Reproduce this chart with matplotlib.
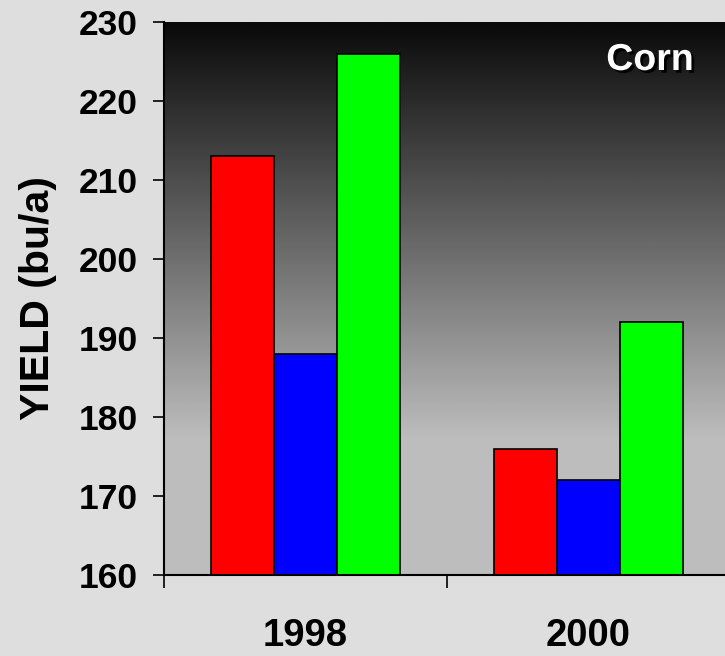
import matplotlib
matplotlib.use("Agg")
import matplotlib.pyplot as plt
import matplotlib.patheffects as pe
import numpy as np

years = ["1998", "2000"]
series_colors = ["#ff0000", "#0000ff", "#00ff00"]
red_vals = [213, 176]
blue_vals = [188, 172]
green_vals = [226, 192]
yticks = [160, 170, 180, 190, 200, 210, 220, 230]

plt.rcParams['font.family'] = ['Liberation Sans', 'DejaVu Sans']
plt.rcParams['font.weight'] = 'bold'

W, H = 725, 656
fig = plt.figure(figsize=(W / 100, H / 100), dpi=100, facecolor="#dedede")
ax = fig.add_axes([164 / W, 1 - 575 / H, 566 / W, 553 / H])

# gradient background
g = np.linspace(0, 1, 256)[:, None]  # 0 bottom, 1 top
vals = np.where(g < 0.244, 189, 189 - (g - 0.244) / (1 - 0.244) * (189 - 10)) / 255.0
img = np.repeat(vals, 2, axis=1)
ax.imshow(img, cmap="gray", vmin=0, vmax=1, origin="lower", aspect="auto",
          extent=[0, 2, 160, 230], zorder=0, interpolation="bilinear")

x = np.arange(len(years)) + 0.5
bw = 0.2226
for i, (vals_s, col) in enumerate(zip([red_vals, blue_vals, green_vals], series_colors)):
    hts = np.array(vals_s) - 160
    ax.bar(x + (i - 1) * bw, hts, bw, bottom=160, color=col, edgecolor="black",
           linewidth=1.2, zorder=2)

ax.set_xlim(0, 2)
ax.set_ylim(160, 230)
ax.set_yticks(yticks)
ax.set_yticklabels([str(t) for t in yticks], fontsize=25.5, fontweight="bold")
ax.tick_params(axis="y", direction="out", length=8, width=1.2, pad=11)

ax.set_xticks([0, 1, 2], minor=True)
ax.set_xticks(x)
ax.set_xticklabels(years, fontsize=27.5, fontweight="bold")
ax.tick_params(axis="x", which="major", length=0, pad=31)
ax.tick_params(axis="x", which="minor", direction="out", length=9.5, width=1.2)

for s in ["top", "right"]:
    ax.spines[s].set_visible(False)
ax.spines["left"].set_linewidth(1.5)
ax.spines["bottom"].set_linewidth(1.5)

fig.text(38 / W, 1 - 298 / H, "YIELD (bu/a)", rotation=90, ha="center", va="center",
         fontsize=29.5, fontweight="bold")

ax.text((650 - 164) / 566, 1 - (60 - 22) / 553, "Corn", transform=ax.transAxes,
        ha="center", va="center", color="white", fontsize=27, fontweight="bold",
        path_effects=[pe.withSimplePatchShadow(offset=(2, -2), shadow_rgbFace="black", alpha=0.9)])

fig.savefig("out.png", dpi=100, facecolor=fig.get_facecolor())
